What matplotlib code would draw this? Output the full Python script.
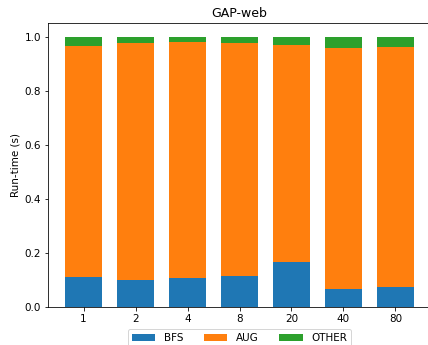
import numpy as np
import matplotlib
matplotlib.use("Agg")
import matplotlib.pyplot as plt

plt.rcParams["font.size"] = 10.4

# run-time breakdown per thread count (normalised)
threads = ["1", "2", "4", "8", "20", "40", "80"]
bfs = [0.110, 0.099, 0.106, 0.116, 0.165, 0.065, 0.073]
aug_top = [0.965, 0.977, 0.980, 0.975, 0.967, 0.959, 0.960]
total = [1.0, 1.0, 1.0, 1.0, 1.0, 1.0, 1.0]

bfs = np.array(bfs)
aug = np.array(aug_top) - bfs
other = np.array(total) - np.array(aug_top)

fig = plt.figure(figsize=(428 / 72, 345 / 72), dpi=72)
ax = fig.add_axes([48 / 428, 38 / 345, 383 / 428, 284 / 345])

x = np.arange(len(threads))
w = 0.7
ax.bar(x, bfs, w, label="BFS")
ax.bar(x, aug, w, bottom=bfs, label="AUG")
ax.bar(x, other, w, bottom=bfs + aug, label="OTHER")

ax.set_xticks(x)
ax.set_xticklabels(threads)
ax.set_ylabel("Run-time (s)")
ax.set_title("GAP-web", fontsize=12.5)
ax.legend(loc="upper center", bbox_to_anchor=(0.5, -0.06), ncol=3,
          handlelength=2.25)

fig.savefig("out.png", dpi=72)
